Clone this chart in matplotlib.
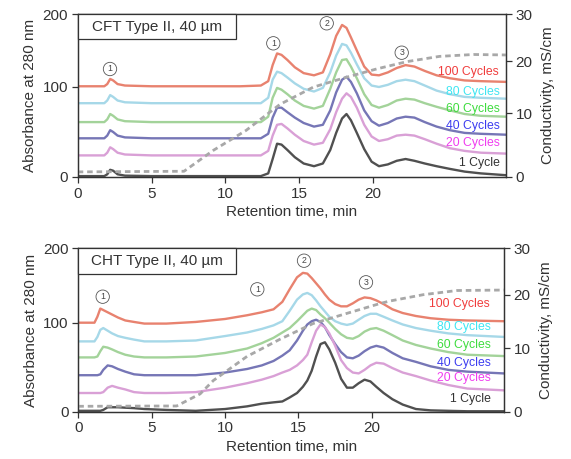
import numpy as np
import matplotlib
matplotlib.use('Agg')
import matplotlib.pyplot as plt
from matplotlib.patches import Rectangle

plt.rcParams['font.family'] = ['Liberation Sans', 'DejaVu Sans']

# ---------------- data: CFT Type II (top) ----------------
t_cft = [0, 1.8, 2.0, 2.2, 2.4, 2.7, 3.2, 5, 8, 11, 12.4, 12.9, 13.2, 13.5, 13.8, 14.2, 14.7, 15.3, 16.0,
         16.6, 17.1, 17.5, 17.9, 18.2, 18.5, 18.9, 19.4, 19.9, 20.4, 21.0, 21.6, 22.2, 22.8, 23.5, 24.3,
         25.2, 26.2, 27.3, 29]
cft_100 = [101, 101, 104, 111, 109, 104, 102, 101, 101, 101, 102, 108, 130, 146, 144, 137, 127, 119, 116,
           120, 145, 170, 185, 181, 168, 150, 128, 117, 116, 120, 126, 130, 128, 122, 116, 112, 109, 108, 107]
cft_80 = [82, 82, 85, 91, 89, 85, 83, 82, 82, 82, 82, 88, 110, 121, 119, 113, 105, 98, 95,
          99, 120, 143, 159, 157, 147, 131, 112, 102, 100, 103, 108, 110, 108, 102, 96, 92, 89, 88, 87]
cft_60 = [61, 61, 64, 70, 68, 64, 62, 61, 61, 61, 61, 67, 88, 99, 97, 92, 85, 79, 76,
          79, 98, 120, 137, 138, 128, 112, 92, 80, 77, 80, 85, 87, 86, 82, 78, 74, 70, 68, 67]
cft_40 = [43, 43, 46, 52, 50, 46, 44, 43, 43, 43, 43, 48, 66, 77, 77, 72, 66, 60, 56,
          58, 74, 94, 110, 114, 107, 93, 74, 62, 57, 60, 65, 67, 66, 61, 56, 52, 49, 48, 47]
cft_20 = [24, 24, 27, 33, 31, 27, 25, 24, 24, 24, 24, 29, 46, 58, 59, 54, 47, 40, 36,
          38, 53, 72, 87, 93, 89, 77, 58, 45, 40, 42, 46, 47, 46, 42, 37, 32, 29, 27, 26]
cft_1 = [1, 1, 3, 8, 7, 3, 1.5, 1, 1, 1, 1, 4, 20, 37, 36, 30, 22, 15, 12,
         15, 30, 49, 65, 70, 63, 49, 31, 17, 12, 14, 18, 20, 18, 15, 12, 9, 6, 4, 2]
cond_t_cft = [0, 7.2, 9.2, 11.4, 13.7, 15.95, 18.2, 20.25, 22.3, 24.5, 26.8, 29]
cond_cft = [0.8, 0.9, 4.2, 7.3, 11.7, 15.0, 16.9, 18.5, 19.9, 21.0, 21.4, 21.3]

# ---------------- data: CHT Type II (bottom) ----------------
t_cht = [0, 1.1, 1.3, 1.5, 1.7, 2.0, 2.3, 2.7, 3.2, 3.8, 4.5, 6, 8, 10, 11.5, 12.5, 13.3, 13.9, 14.4,
         14.9, 15.3, 15.6, 15.9, 16.2, 16.5, 16.8, 17.1, 17.5, 17.9, 18.3, 18.7, 19.1, 19.5, 19.9,
         20.3, 20.8, 21.4, 22.1, 23.0, 24.0, 25.2, 26.5, 29]
cht_100 = [100, 100, 108, 119, 117, 114, 111, 107, 103, 101, 99, 99, 101, 105, 110, 114, 118, 128, 145,
           161, 167, 166, 160, 153, 146, 138, 131, 125, 122, 122, 126, 131, 134, 133,
           130, 125, 118, 113, 109, 106, 104, 103, 102]
cht_80 = [79, 79, 84, 92, 94, 91, 88, 85, 83, 81, 79, 79, 80, 85, 89, 93, 97, 102, 116,
          131, 138, 140, 137, 130, 122, 115, 108, 102, 99, 97.5, 99, 104, 109, 112,
          112, 108, 103, 98, 94, 91, 88, 86, 84]
cht_60 = [61, 61, 62, 68, 73, 72, 70, 67, 64, 62, 61, 61, 62, 66, 71, 77, 83, 89, 94,
          102, 110, 116, 119, 117, 111, 106, 100, 93, 87, 83, 82, 85, 90, 93,
          94, 91, 86, 80, 75, 71, 67, 64, 62.5]
cht_40 = [41, 41, 41, 42, 47, 52, 51, 48, 45, 42, 41, 41, 41, 44, 48, 52, 57, 63, 69,
          80, 91, 98, 102, 104, 101, 95, 86, 76, 67, 61, 60, 63, 68, 72,
          74, 72, 66, 60, 56, 51, 47, 45, 43]
cht_20 = [21, 21, 21, 21, 22, 27, 29, 27, 25, 22, 21, 21, 22, 27, 32, 36, 40, 44, 47,
          52, 58, 64, 78, 91, 98, 95, 88, 74, 58, 49, 44, 43, 47, 52,
          55, 54, 49, 44, 40, 35, 30, 26, 24]
cht_1 = [1, 1, 1, 1, 2, 5, 5, 5, 4.5, 4, 3, 2, 1, 3, 6, 9, 10.5, 11.5, 16,
         21, 28, 35, 46, 62, 76, 78, 70, 55, 37, 27, 27, 32, 36, 34,
         28, 21, 14, 8, 3, 1.5, 1, 0.5, 0.5]
cond_t_cht = [0, 6.7, 8.3, 9.2, 11.5, 12.8, 13.7, 16.0, 18.3, 20.5, 21.2, 23.5, 25.8, 29]
cond_cht = [0.85, 0.9, 2.8, 4.9, 8.7, 10.3, 11.6, 14.6, 16.5, 18.3, 18.8, 20.0, 20.9, 21.0]

cycle_labels = ['100 Cycles', '80 Cycles', '60 Cycles', '40 Cycles', '20 Cycles', '1 Cycle']
line_colors = ['#e8826f', '#a6d8e8', '#a3d39a', '#7676b6', '#d9a0d6', '#505050']
text_colors = ['#f03c3c', '#3ee6f2', '#3edc3e', '#3c3cf0', '#f03cf0', '#333333']

INK = '#333333'


def piecewise_scale(ticks, heights):
    # the printed axes are not evenly spaced, follow the tick positions
    t = [ticks[0] - 1000] + list(ticks) + [ticks[-1] + 1000]
    s0 = (heights[1] - heights[0]) / (ticks[1] - ticks[0])
    s1 = (heights[-1] - heights[-2]) / (ticks[-1] - ticks[-2])
    h = [heights[0] - 1000 * s0] + list(heights) + [heights[-1] + 1000 * s1]
    fwd = lambda v: np.interp(v, t, h)
    inv = lambda v: np.interp(v, h, t)
    return fwd, inv


def draw_panel(rect, box_y, box_w, title, t, traces, cond_t, cond, left_h, right_h, circles, label_pos):
    ax = fig.add_axes(rect)
    ax.set_yscale('function', functions=piecewise_scale([0, 100, 200], left_h))
    for y, c in zip(traces, line_colors):
        ax.plot(t, y, color=c, lw=1.7, solid_capstyle='round', solid_joinstyle='round')
    ax.set_xlim(0, 29)
    ax.set_ylim(0, 200)
    ax.set_xticks([0, 5, 10, 15, 20])
    ax.set_yticks([0, 100, 200])
    ax.set_xlabel('Retention time, min', fontsize=11, color=INK, labelpad=3)
    ax.set_ylabel('Absorbance at 280 nm', fontsize=11, color=INK, labelpad=4)

    ax2 = ax.twinx()
    ax2.set_yscale('function', functions=piecewise_scale([0, 10, 20, 30], right_h))
    ax2.plot(cond_t, cond, color='#a8a8a8', lw=2.0, linestyle=(0, (2, 1.4)))
    ax2.set_ylim(0, 30)
    ax2.set_yticks([0, 10, 20, 30])
    ax2.set_ylabel('Conductivity, mS/cm', fontsize=11, color=INK, labelpad=6)

    for a in (ax, ax2):
        for sp in a.spines.values():
            sp.set_color(INK)
            sp.set_linewidth(0.9)
        a.tick_params(direction='out', length=4, width=0.9, colors=INK, labelsize=11, pad=3)
        a.minorticks_off()

    ax2.add_patch(Rectangle((0, box_y), box_w, 1 - box_y, transform=ax2.transAxes,
                            fc='white', ec=INK, lw=0.9, clip_on=False, zorder=5))
    ax2.text(box_w / 2, (1 + box_y) / 2, title, transform=ax2.transAxes, ha='center', va='center',
             fontsize=11, color=INK, zorder=6)

    for num, (cx, cy) in circles:
        ax.text(cx, cy, num, transform=ax.transAxes, ha='center', va='center', fontsize=6.3,
                color='#444444', zorder=6,
                bbox=dict(boxstyle='circle,pad=0.25', fc='white', ec='#555555', lw=0.6))

    for lab, col, (lx, ly) in zip(cycle_labels, text_colors, label_pos):
        ax.text(lx, ly, lab, transform=ax.transAxes, ha='right', va='center', fontsize=8.8,
                color=col, zorder=6)
    return ax


fig = plt.figure(figsize=(5.71, 4.59), dpi=100)

top_rect = [77.7 / 571, 1 - 177 / 459, 428.3 / 571, 163 / 459]
draw_panel(top_rect, 0.8466, 0.3696, 'CFT Type II, 40 µm', t_cft,
           [cft_100, cft_80, cft_60, cft_40, cft_20, cft_1], cond_t_cft, cond_cft,
           [0, 90, 163], [0, 63.7, 115.7, 162.7],
           [('1', (0.0754, 0.6626)), ('1', (0.4567, 0.8202)), ('2', (0.5814, 0.943)),
            ('3', (0.7565, 0.7626))],
           [(0.982, 0.646), (0.986, 0.523), (0.986, 0.417), (0.986, 0.313), (0.986, 0.207),
            (0.986, 0.088)])

bot_rect = [78.3 / 571, 1 - 411.7 / 459, 425.7 / 571, 163.4 / 459]
draw_panel(bot_rect, 0.841, 0.3705, 'CHT Type II, 40 µm', t_cht,
           [cht_100, cht_80, cht_60, cht_40, cht_20, cht_1], cond_t_cht, cond_cht,
           [0, 89, 163.4], [0, 62.7, 115.3, 161],
           [('1', (0.0573, 0.7038)), ('1', (0.4205, 0.749)), ('2', (0.5302, 0.9241)),
            ('3', (0.6758, 0.7919))],
           [(0.966, 0.657), (0.969, 0.520), (0.969, 0.408), (0.969, 0.300), (0.969, 0.204),
            (0.969, 0.0777)])

plt.savefig('out.png', dpi=100)
plt.close()
